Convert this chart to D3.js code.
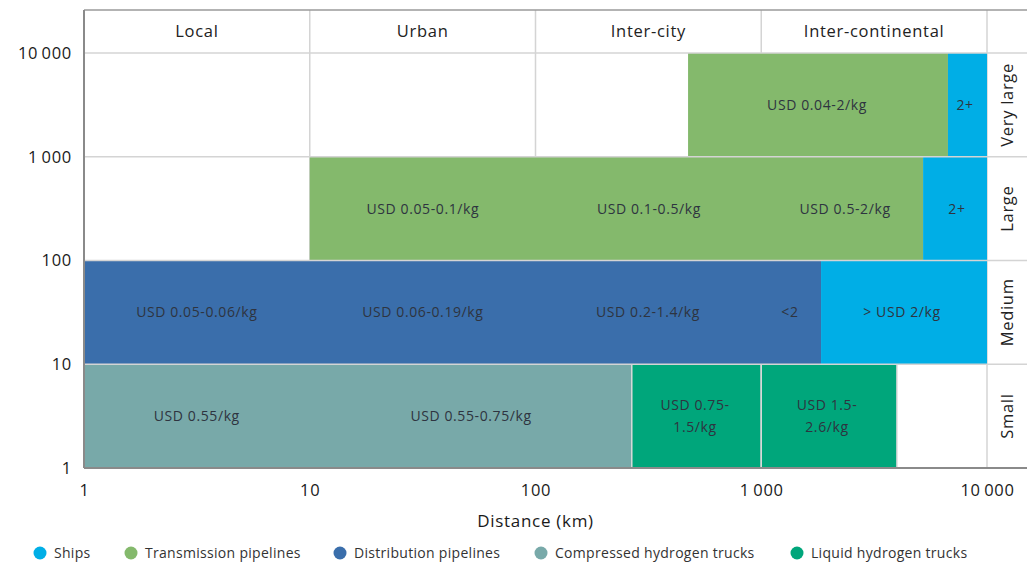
<!DOCTYPE html>
<html>
<head>
<meta charset="utf-8">
<script src="https://cdn.jsdelivr.net/npm/d3@7"></script>
<style>
  body { margin: 0; background: #fff; }
  svg { display: block; font-family: "Open Sans", sans-serif; }
</style>
</head>
<body>
<svg width="1027" height="565"></svg>
<script>
// categories
var modes = ["Ships", "Transmission pipelines", "Distribution pipelines", "Compressed hydrogen trucks", "Liquid hydrogen trucks"];
var modeColors = ["#00aee6", "#84b96c", "#3a6eab", "#78a9a9", "#00a67b"];
var distanceBands = ["Local", "Urban", "Inter-city", "Inter-continental"];
var bandEdges = [1, 10, 100, 1000, 10000];
var sizes = ["Small", "Medium", "Large", "Very large"];
var sizeEdges = [1, 10, 100, 1000, 10000];
var tickValues = [1, 10, 100, 1000, 10000];

// bars per size row: [mode, from km, to km]
var smallBars = [["Compressed hydrogen trucks", 1, 267], ["Liquid hydrogen trucks", 267, 1000], ["Liquid hydrogen trucks", 1000, 3990]];
var mediumBars = [["Distribution pipelines", 1, 1840], ["Ships", 1840, 10000]];
var largeBars = [["Transmission pipelines", 10, 5210], ["Ships", 5210, 10000]];
var veryLargeBars = [["Transmission pipelines", 474, 6715], ["Ships", 6715, 10000]];

// cost labels per size row: [km position, text]
var smallLabels = [[3.16, "USD 0.55/kg"], [51.8, "USD 0.55-0.75/kg"], [509, "USD 0.75-|1.5/kg"], [1955, "USD 1.5-|2.6/kg"]];
var mediumLabels = [[3.16, "USD 0.05-0.06/kg"], [31.7, "USD 0.06-0.19/kg"], [315, "USD 0.2-1.4/kg"], [1340, "<2"], [4200, "> USD 2/kg"]];
var largeLabels = [[31.7, "USD 0.05-0.1/kg"], [318, "USD 0.1-0.5/kg"], [2350, "USD 0.5-2/kg"], [7360, "2+"]];
var veryLargeLabels = [[1766, "USD 0.04-2/kg"], [8000, "2+"]];

var rowBars = [smallBars, mediumBars, largeBars, veryLargeBars];
var rowLabels = [smallLabels, mediumLabels, largeLabels, veryLargeLabels];

var svg = d3.select("svg");
var mLeft = 84, mRight = 987, mTop = 53, mBottom = 468, headTop = 10, edge = 1027;
var labelSize = 14, lineGap = 22;

var x = d3.scaleLog().domain([1, 10000]).range([mLeft, mRight]);
var y = d3.scaleLog().domain([1, 10000]).range([mBottom, mTop]);
var color = d3.scaleOrdinal().domain(modes).range(modeColors);
var fmt = function(d) { return d3.format(",")(d).replace(/,/g, "\u2009"); };

// vertical grid (under bars)
svg.append("g").selectAll("line")
	.data(bandEdges.slice(1))
	.join("line")
	.attr("x1", function(d) { return x(d); })
	.attr("x2", function(d) { return x(d); })
	.attr("y1", headTop)
	.attr("y2", mBottom)
	.attr("stroke", "#d4d4d4")
	.attr("stroke-width", 1.5);

// bars
sizes.forEach(function(s, i) {
	var y0 = y(sizeEdges[i]), y1 = y(sizeEdges[i + 1]);
	svg.append("g").selectAll("rect")
		.data(rowBars[i])
		.join("rect")
		.attr("x", function(d) { return x(d[1]); })
		.attr("y", y1)
		.attr("width", function(d) { return x(d[2]) - x(d[1]); })
		.attr("height", y0 - y1)
		.attr("fill", function(d) { return color(d[0]); })
		.attr("stroke", function(d) { return d[0] == "Liquid hydrogen trucks" ? "#d8d8d8" : "none"; })
		.attr("stroke-width", 1.5);

	var lab = svg.append("g").selectAll("text")
		.data(rowLabels[i])
		.join("text")
		.attr("x", function(d) { return x(d[0]); })
		.attr("y", (y0 + y1) / 2)
		.attr("text-anchor", "middle")
		.attr("font-size", labelSize)
		.attr("letter-spacing", 0.6)
		.attr("fill", "#2e3440");
	lab.each(function(d) {
		var parts = d[1].split("|");
		var t = d3.select(this);
		parts.forEach(function(p, k) {
			t.append("tspan")
				.attr("x", x(d[0]))
				.attr("dy", k == 0 ? (0.35 * labelSize - (parts.length - 1) * lineGap / 2) : lineGap)
				.text(p);
		});
	});
});

// horizontal row lines (over bars)
svg.append("g").selectAll("line")
	.data(sizeEdges.slice(1, 4))
	.join("line")
	.attr("x1", mLeft)
	.attr("x2", edge)
	.attr("y1", function(d) { return y(d); })
	.attr("y2", function(d) { return y(d); })
	.attr("stroke", "#d4d4d4")
	.attr("stroke-width", 1.5);

// header row
svg.append("line").attr("x1", mLeft).attr("x2", edge).attr("y1", mTop).attr("y2", mTop)
	.attr("stroke", "#d4d4d4").attr("stroke-width", 1.5);
svg.append("line").attr("x1", mLeft).attr("x2", edge).attr("y1", headTop).attr("y2", headTop)
	.attr("stroke", "#9a9a9a").attr("stroke-width", 1.5);
svg.append("g").selectAll("text")
	.data(distanceBands)
	.join("text")
	.attr("x", function(d, i) { return (x(bandEdges[i]) + x(bandEdges[i + 1])) / 2; })
	.attr("y", (headTop + mTop) / 2)
	.attr("dy", "0.35em")
	.attr("text-anchor", "middle")
	.attr("font-size", 16.5)
	.attr("letter-spacing", 0.7)
	.attr("fill", "#222")
	.text(function(d) { return d; });

// size column labels
svg.append("g").selectAll("text")
	.data(sizes)
	.join("text")
	.attr("transform", function(d, i) {
		return "translate(" + ((mRight + edge) / 2) + "," + ((y(sizeEdges[i]) + y(sizeEdges[i + 1])) / 2) + ") rotate(-90)";
	})
	.attr("dy", "0.35em")
	.attr("text-anchor", "middle")
	.attr("font-size", 16.5)
	.attr("letter-spacing", 0.7)
	.attr("fill", "#222")
	.text(function(d) { return d; });

// frame
svg.append("line").attr("x1", mLeft).attr("x2", mLeft).attr("y1", headTop).attr("y2", mBottom)
	.attr("stroke", "#8a8a8a").attr("stroke-width", 2);
svg.append("line").attr("x1", mLeft).attr("x2", edge).attr("y1", mBottom).attr("y2", mBottom)
	.attr("stroke", "#8a8a8a").attr("stroke-width", 2);

// axes
var xAxis = svg.append("g")
	.attr("transform", "translate(0," + mBottom + ")")
	.call(d3.axisBottom(x).tickValues(tickValues).tickFormat(fmt).tickSize(0).tickPadding(16));
var yAxis = svg.append("g")
	.attr("transform", "translate(" + mLeft + ",0)")
	.call(d3.axisLeft(y).tickValues(tickValues).tickFormat(fmt).tickSize(0).tickPadding(12));
[xAxis, yAxis].forEach(function(a) {
	a.select(".domain").remove();
	a.selectAll("text")
		.attr("font-family", "'Open Sans', sans-serif")
		.attr("font-size", 16.5)
		.attr("letter-spacing", 0.7)
		.attr("fill", "#1a1a1a");
});

svg.append("text")
	.attr("x", (mLeft + mRight) / 2)
	.attr("y", 521)
	.attr("dy", "0.35em")
	.attr("text-anchor", "middle")
	.attr("font-size", 17)
	.attr("letter-spacing", 0.7)
	.attr("fill", "#1a1a1a")
	.text("Distance (km)");

// legend
var legendX = [40, 131, 340, 541, 797];
var leg = svg.append("g").selectAll("g")
	.data(modes)
	.join("g")
	.attr("transform", function(d, i) { return "translate(" + legendX[i] + ",553)"; });
leg.append("circle").attr("r", 6.5).attr("fill", function(d) { return color(d); });
leg.append("text")
	.attr("x", 14)
	.attr("dy", "0.35em")
	.attr("font-size", 14)
	.attr("letter-spacing", 0.3)
	.attr("fill", "#333")
	.text(function(d) { return d; });
</script>
</body>
</html>
